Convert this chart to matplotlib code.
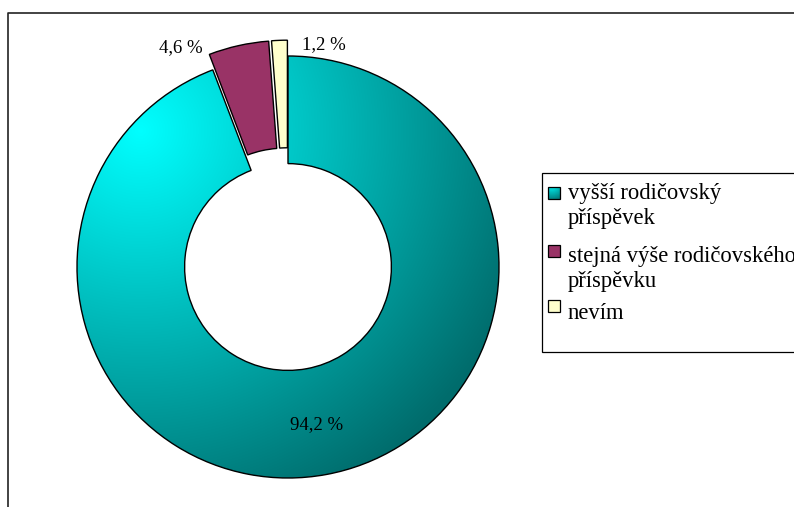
import numpy as np
import matplotlib.pyplot as plt
from matplotlib.patches import Rectangle

# === DATA === #
categories = ['vyšší rodičovský\npříspěvek',
              'stejná výše rodičovského\npříspěvku',
              'nevím']
values = [94.2, 4.6, 1.2]
explode = [0.0, 0.075, 0.075]
colors = ['#00c8c8', '#993366', '#ffffcc']

W, H = 794, 507
FONT = 'Liberation Serif'


def pct(v):
    return ('%.1f %%' % v).replace('.', ',')


def teal_gradient(x0, x1, y0, y1, n=300):
    # pixel coords, y measured from top of the picture
    xs = np.linspace(x0, x1, n)
    ys = np.linspace(y0, y1, n)
    X, Y = np.meshgrid(xs, ys)
    d = np.hypot(X - 140, Y - 130)
    c = np.clip(255 - 0.36 * d, 108, 255) / 255.0
    img = np.zeros((n, n, 3))
    img[..., 1] = c
    img[..., 2] = c
    return img


fig = plt.figure(figsize=(W / 100, H / 100), dpi=100)
ax = fig.add_axes([0, 0, 1, 1])

cx, cy, R = 288, 267, 211
# pie's explode is in data units, so scale by the radius
wedges, _ = ax.pie(values, colors=colors, explode=[e * R for e in explode],
                   startangle=90, counterclock=False,
                   radius=R, center=(cx, H - cy), frame=True,
                   wedgeprops=dict(width=R * 0.51, edgecolor='black', linewidth=1.0))

# gradient fill for the big slice
wedges[0].set_facecolor('none')
wedges[0].set_zorder(3)
img = teal_gradient(cx - R, cx + R, cy - R, cy + R)
im = ax.imshow(img, extent=(cx - R, cx + R, H - (cy + R), H - (cy - R)),
               origin='upper', zorder=2, interpolation='bilinear')
im.set_clip_path(wedges[0])

ax.set_xlim(0, W)
ax.set_ylim(0, H)
ax.set_aspect('equal')
ax.axis('off')

# percent labels
lab_pos = [(317, 425), (181, 48), (324, 45)]
for v, (px, py) in zip(values, lab_pos):
    ax.text(px, H - py, pct(v), ha='center', va='center',
            fontsize=13.5, family=FONT, color='black', zorder=5)

# outer frame (cut by picture edge)
ax.plot([8, 8, W + 5], [-5, H - 13, H - 13], color='#222222', lw=1.2, clip_on=False)

# legend
ax.add_patch(Rectangle((542, H - 352), 300, 179, facecolor='white',
                       edgecolor='black', lw=0.9, zorder=4))
sq_tops = [187, 245, 300]
baselines = [199, 262, 319]
for i, lab in enumerate(categories):
    t = sq_tops[i]
    sq = Rectangle((548, H - t - 12), 12, 12, facecolor=colors[i],
                   edgecolor='black', lw=0.9, zorder=6)
    ax.add_patch(sq)
    if i == 0:
        sq.set_facecolor('none')
        g = ax.imshow(teal_gradient(60, 330, 200, 470, n=20),
                      extent=(548, 560, H - t - 12, H - t),
                      origin='upper', zorder=5, interpolation='bilinear')
        g.set_clip_path(sq)
    for j, line in enumerate(lab.split('\n')):
        ax.text(568, H - (baselines[i] + j * 25), line, ha='left', va='baseline',
                fontsize=16.3, family=FONT, color='black', zorder=6)

ax.set_xlim(0, W)
ax.set_ylim(0, H)
fig.savefig('out.png', dpi=100)
